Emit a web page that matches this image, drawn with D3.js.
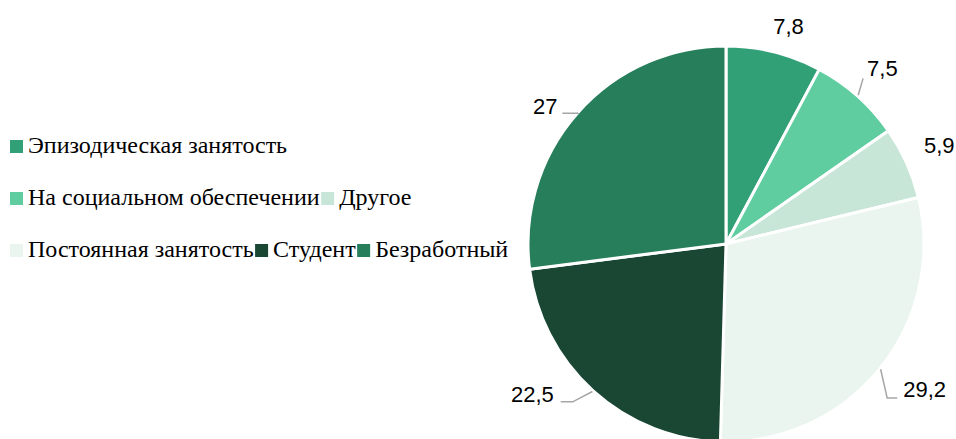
<!DOCTYPE html>
<html lang="ru">
<head>
<meta charset="utf-8">
<script src="https://cdn.jsdelivr.net/npm/d3@7"></script>
<style>
  html, body { margin: 0; padding: 0; background: #fff; }
  svg { display: block; }
  .legend text { font-family: "Liberation Serif", "Times New Roman", Times, "DejaVu Serif", serif; font-size: 24px; fill: #000; }
  .labels text { font-family: "Liberation Sans", Arial, sans-serif; font-size: 22px; fill: #000; }
</style>
</head>
<body>
<svg id="chart" width="956" height="439"></svg>
<script>
// Employment status shares, %
const categories = [
  "Эпизодическая занятость",
  "На социальном обеспечении",
  "Другое",
  "Постоянная занятость",
  "Студент",
  "Безработный"
];
const values = [7.8, 7.5, 5.9, 29.2, 22.5, 27];
const valueLabels = ["7,8", "7,5", "5,9", "29,2", "22,5", "27"];
const colors = ["#32a077", "#5fcd9f", "#c8e6d7", "#eaf5ef", "#194734", "#277e5b"];

// Label placement per slice: free labels sit on the slice's mid-angle,
// leader labels get an angled segment, then a horizontal one.
const labelLayout = [
  { line: false, dist: 28, turn: 2 },
  { line: true, len1: 17, turn: -2, len2: 0, gap: 4, lift: 2 },
  { line: false, dist: 37, turn: -0.6 },
  { line: true, len1: 25, turn: 4.7, len2: 10, gap: 6, lift: 1 },
  { line: true, len1: 22, turn: 2, len2: 12, gap: 7, lift: 0 },
  { line: true, len1: 0, turn: 0, len2: 15, gap: 5, lift: -1 }
];

const svg = d3.select("#chart");
const cx = 726, cy = 244, R = 198;

const pie = d3.pie().sort(null).value(d => d)
  .startAngle(0).endAngle(2 * Math.PI);
const arcs = pie(values);
const arc = d3.arc().innerRadius(0).outerRadius(R);

const g = svg.append("g").attr("transform", `translate(${cx},${cy})`);

g.selectAll("path.slice")
  .data(arcs)
  .join("path")
  .attr("class", "slice")
  .attr("d", arc)
  .attr("fill", (d, i) => colors[i])
  .attr("stroke", "#fff")
  .attr("stroke-width", 3)
  .attr("stroke-linejoin", "round");

// polar -> cartesian, angle measured clockwise from 12 o'clock
const polar = (r, a) => [r * Math.sin(a), -r * Math.cos(a)];
const deg = Math.PI / 180;

const labels = g.append("g").attr("class", "labels");
arcs.forEach((d, i) => {
  const mid = (d.startAngle + d.endAngle) / 2;
  const L = labelLayout[i];
  const right = Math.sin(mid) >= 0;
  if (!L.line) {
    const [x, y] = polar(R + L.dist, mid + L.turn * deg);
    labels.append("text")
      .attr("x", x).attr("y", y)
      .attr("text-anchor", "middle")
      .attr("dominant-baseline", "central")
      .text(valueLabels[i]);
    return;
  }
  const p0 = polar(R + 1, mid);
  const p1 = polar(R + L.len1, mid + L.turn * deg);
  const p2 = [p1[0] + (right ? L.len2 : -L.len2), p1[1]];
  labels.append("polyline")
    .attr("points", [p0, p1, p2].map(p => p.join(",")).join(" "))
    .attr("fill", "none")
    .attr("stroke", "#a6a6a6")
    .attr("stroke-width", 1.5);
  labels.append("text")
    .attr("x", p2[0] + (right ? L.gap : -L.gap))
    .attr("y", p2[1] - L.lift)
    .attr("text-anchor", right ? "start" : "end")
    .text(valueLabels[i]);
});

// Legend: flowing rows of swatch + name
const legend = svg.append("g").attr("class", "legend");
const lx0 = 10, maxRight = 520, rowGap = 52, sw = 13;
let lx = lx0, baseline = 153;
categories.forEach((name, i) => {
  const item = legend.append("g");
  const t = item.append("text").text(name);
  const w = t.node().getComputedTextLength();
  const itemW = sw + 5 + w + 1.5;
  if (lx > lx0 && lx + itemW > maxRight) {
    lx = lx0;
    baseline += rowGap;
  }
  item.append("rect")
    .attr("x", lx).attr("y", baseline - sw)
    .attr("width", sw).attr("height", sw)
    .attr("fill", colors[i]);
  t.attr("x", lx + sw + 5).attr("y", baseline);
  lx += itemW;
});
</script>
</body>
</html>
